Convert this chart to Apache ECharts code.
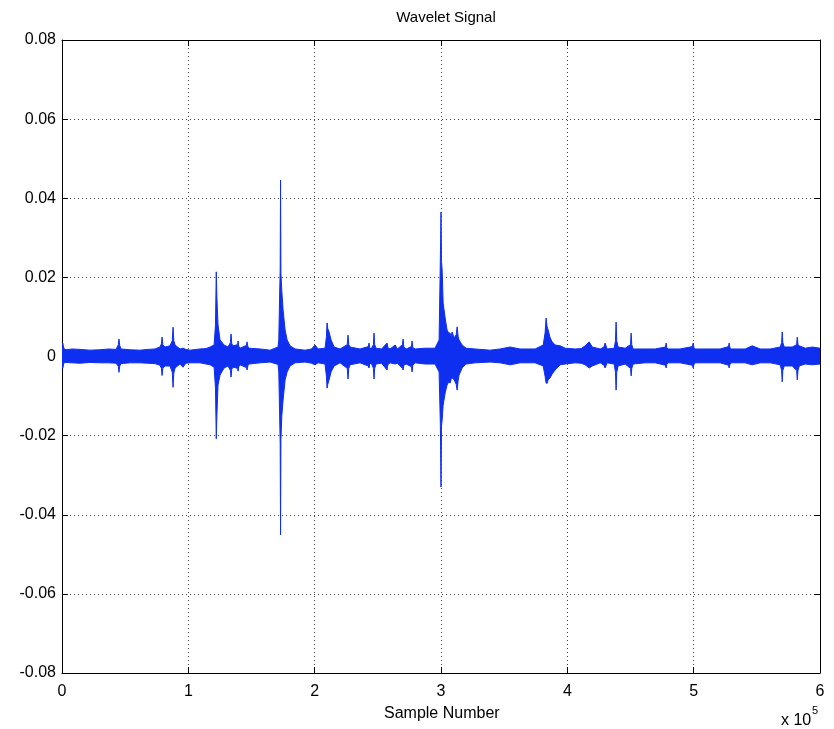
<!DOCTYPE html>
<html>
<head>
<meta charset="utf-8">
<script src="https://cdn.jsdelivr.net/npm/echarts@6/dist/echarts.min.js"></script>
<style>
html,body{margin:0;padding:0;background:#fff;}
#chart{width:834px;height:729px;}
</style>
</head>
<body>
<div id="chart"></div>
<script>
// Envelope of the wavelet signal (sample index, max, min)
var sampleIdx = [0,600,1500,3200,8000,14300,22000,30100,37000,42800,44600,45100,45700,46700,54000,61800,68000,73600,77500,78700,79200,79800,81600,85500,87300,87900,88500,89500,93400,95800,98000,101300,109200,114000,117200,120400,121500,122100,122600,123500,125100,128300,131400,133300,133800,134400,135400,139000,139400,139900,140900,146000,146500,147200,148100,156800,164700,171000,171600,172200,172700,173000,173300,174000,175000,176600,178200,180500,184500,192400,197500,200300,202700,208200,209300,209800,210400,211400,213000,215400,220100,225800,226400,227000,228000,235900,242500,243000,243600,244700,246500,247000,247500,248600,253000,257300,258000,259700,263700,265500,269500,270000,270600,272400,276600,277100,277700,279500,287400,295300,298500,299500,300000,300400,300900,301700,303300,304800,306000,307200,308000,308800,310400,312000,312800,313600,314300,316700,319900,327000,338900,346800,354700,362600,374500,380900,382400,383200,384000,384800,386400,388000,390400,394300,398300,406200,411000,414100,417300,419700,426000,429000,429900,431500,437100,438100,438600,439100,440200,445800,450000,450500,451000,452100,461600,469500,477700,478200,478700,479700,489200,499000,499600,500300,501200,513100,521000,527600,528100,528700,529700,540800,546300,552700,560600,568500,569600,570100,570600,571700,578000,581500,582000,582600,583600,588300,593900,600000];
var upperEnv = [0.0018,0.0034,0.0020,0.0017,0.0019,0.0018,0.0016,0.0017,0.0019,0.0018,0.0030,0.0044,0.0028,0.0019,0.0017,0.0016,0.0018,0.0019,0.0024,0.0032,0.0049,0.0030,0.0024,0.0027,0.0040,0.0074,0.0040,0.0029,0.0019,0.0021,0.0018,0.0016,0.0019,0.0020,0.0024,0.0029,0.0080,0.0214,0.0150,0.0080,0.0042,0.0029,0.0024,0.0035,0.0057,0.0032,0.0027,0.0030,0.0039,0.0026,0.0021,0.0028,0.0037,0.0024,0.0021,0.0019,0.0016,0.0024,0.0042,0.0143,0.0219,0.0446,0.0210,0.0165,0.0118,0.0067,0.0042,0.0027,0.0019,0.0016,0.0019,0.0029,0.0019,0.0021,0.0050,0.0085,0.0070,0.0062,0.0042,0.0024,0.0019,0.0030,0.0054,0.0030,0.0024,0.0019,0.0025,0.0034,0.0022,0.0019,0.0030,0.0059,0.0030,0.0021,0.0019,0.0034,0.0022,0.0019,0.0029,0.0019,0.0030,0.0044,0.0024,0.0019,0.0025,0.0039,0.0022,0.0019,0.0021,0.0021,0.0042,0.0249,0.0365,0.0240,0.0219,0.0135,0.0097,0.0067,0.0060,0.0059,0.0050,0.0062,0.0047,0.0055,0.0075,0.0050,0.0042,0.0029,0.0021,0.0019,0.0016,0.0019,0.0024,0.0019,0.0019,0.0029,0.0060,0.0097,0.0075,0.0067,0.0047,0.0037,0.0029,0.0027,0.0021,0.0019,0.0020,0.0027,0.0037,0.0024,0.0019,0.0024,0.0034,0.0019,0.0021,0.0040,0.0087,0.0040,0.0024,0.0021,0.0030,0.0059,0.0030,0.0019,0.0019,0.0019,0.0024,0.0034,0.0022,0.0019,0.0019,0.0025,0.0034,0.0022,0.0019,0.0019,0.0019,0.0025,0.0034,0.0022,0.0019,0.0019,0.0027,0.0019,0.0019,0.0024,0.0035,0.0062,0.0035,0.0024,0.0024,0.0030,0.0049,0.0030,0.0027,0.0021,0.0024,0.0021];
var lowerEnv = [-0.0014,-0.0030,-0.0016,-0.0015,-0.0016,-0.0017,-0.0015,-0.0016,-0.0016,-0.0017,-0.0025,-0.0040,-0.0024,-0.0018,-0.0016,-0.0016,-0.0017,-0.0018,-0.0022,-0.0030,-0.0048,-0.0030,-0.0024,-0.0024,-0.0040,-0.0078,-0.0042,-0.0029,-0.0019,-0.0027,-0.0017,-0.0016,-0.0016,-0.0019,-0.0021,-0.0027,-0.0080,-0.0208,-0.0150,-0.0072,-0.0047,-0.0029,-0.0024,-0.0035,-0.0052,-0.0032,-0.0027,-0.0030,-0.0037,-0.0026,-0.0021,-0.0028,-0.0034,-0.0023,-0.0019,-0.0016,-0.0014,-0.0020,-0.0039,-0.0135,-0.0219,-0.0451,-0.0210,-0.0150,-0.0110,-0.0059,-0.0039,-0.0024,-0.0016,-0.0014,-0.0017,-0.0021,-0.0016,-0.0019,-0.0050,-0.0080,-0.0070,-0.0059,-0.0039,-0.0024,-0.0016,-0.0030,-0.0057,-0.0030,-0.0021,-0.0016,-0.0024,-0.0029,-0.0020,-0.0016,-0.0030,-0.0057,-0.0030,-0.0019,-0.0017,-0.0034,-0.0020,-0.0016,-0.0019,-0.0017,-0.0030,-0.0034,-0.0022,-0.0019,-0.0026,-0.0039,-0.0022,-0.0016,-0.0019,-0.0019,-0.0039,-0.0173,-0.0330,-0.0175,-0.0161,-0.0123,-0.0092,-0.0072,-0.0065,-0.0067,-0.0058,-0.0054,-0.0059,-0.0070,-0.0085,-0.0060,-0.0047,-0.0029,-0.0019,-0.0016,-0.0014,-0.0016,-0.0021,-0.0016,-0.0016,-0.0024,-0.0050,-0.0067,-0.0068,-0.0059,-0.0054,-0.0044,-0.0034,-0.0021,-0.0019,-0.0016,-0.0017,-0.0021,-0.0029,-0.0024,-0.0016,-0.0022,-0.0029,-0.0016,-0.0019,-0.0040,-0.0085,-0.0040,-0.0024,-0.0019,-0.0030,-0.0049,-0.0030,-0.0019,-0.0016,-0.0016,-0.0022,-0.0029,-0.0020,-0.0016,-0.0016,-0.0022,-0.0029,-0.0020,-0.0016,-0.0016,-0.0016,-0.0022,-0.0029,-0.0020,-0.0016,-0.0016,-0.0021,-0.0016,-0.0016,-0.0021,-0.0035,-0.0064,-0.0035,-0.0024,-0.0024,-0.0035,-0.0059,-0.0035,-0.0024,-0.0019,-0.0021,-0.0019];

var xTicks = [0,1,2,3,4,5,6];          // x 10^5
var yTicks = [-0.08,-0.06,-0.04,-0.02,0,0.02,0.04,0.06,0.08];
var titleText = 'Wavelet Signal';
var xLabel = 'Sample Number';

var FONT = 'Liberation Sans, Arial, sans-serif';
var BLUE = '#0f2ff0';

var envData = sampleIdx.map(function(s,i){return [s, upperEnv[i], lowerEnv[i]];});

var xScale = 100000;
var dotted = {show:true, lineStyle:{color:'#444', type:[1,3], width:1}};
function xAxisCfg(pos, labels){
  return {
    type:'value', position:pos, min:xTicks[0]*xScale, max:xTicks[xTicks.length-1]*xScale, interval:xScale,
    axisLine:{show:true, onZero:false, lineStyle:{color:'#000', width:1}},
    axisTick:{show:true, inside:true, length:6, lineStyle:{color:'#000'}},
    axisLabel:{show:labels, color:'#000', fontSize:16, fontFamily:FONT, margin:11,
      formatter:function(v){return String(Math.round(v/xScale));}},
    splitLine: labels ? dotted : {show:false}
  };
}
function yAxisCfg(pos, labels){
  return {
    type:'value', position:pos, min:yTicks[0], max:yTicks[yTicks.length-1], interval:0.02,
    axisLine:{show:true, onZero:false, lineStyle:{color:'#000', width:1}},
    axisTick:{show:true, inside:true, length:6, lineStyle:{color:'#000'}},
    axisLabel:{show:labels, color:'#000', fontSize:16, fontFamily:FONT, margin:6,
      formatter:function(v){ var r=Math.round(v*100)/100; return r===0?'0':r.toFixed(2);} },
    splitLine: labels ? dotted : {show:false}
  };
}

function renderEnvelope(params, api){
  if (params.dataIndex !== 0) return null;
  var pts = [];
  var n = params.dataInsideLength !== undefined ? envData.length : envData.length;
  for (var i = 0; i < n; i++) pts.push(api.coord([envData[i][0], envData[i][1]]));
  for (var j = n - 1; j >= 0; j--) pts.push(api.coord([envData[j][0], envData[j][2]]));
  return {
    type:'polygon',
    shape:{points:pts},
    style:{fill:BLUE, stroke:BLUE, lineWidth:1}
  };
}

var chart = echarts.init(document.getElementById('chart'), null, {renderer:'canvas'});
chart.setOption({
  animation:false,
  backgroundColor:'#fff',
  title:{text:titleText, left:441, textAlign:'center', top:5,
    textStyle:{fontSize:15, fontWeight:'normal', color:'#000', fontFamily:FONT}},
  grid:{left:62, right:14, top:40, bottom:56, show:false},
  xAxis:[xAxisCfg('bottom', true), xAxisCfg('top', false)],
  yAxis:[yAxisCfg('left', true), yAxisCfg('right', false)],
  series:[
    {type:'custom', xAxisIndex:0, yAxisIndex:0, data:envData, silent:true,
      encode:{x:0, y:[1,2]}, renderItem:renderEnvelope, clip:true, z:3}
  ],
  graphic:[
    {type:'text', left:441-57, top:706, style:{text:xLabel, fontSize:16, fontFamily:FONT, fill:'#000'}},
    {type:'text', left:781, top:713, style:{text:'x 10', fontSize:16, fontFamily:FONT, fill:'#000'}},
    {type:'text', left:812, top:705, style:{text:'5', fontSize:11, fontFamily:FONT, fill:'#000'}}
  ]
});
</script>
</body>
</html>
